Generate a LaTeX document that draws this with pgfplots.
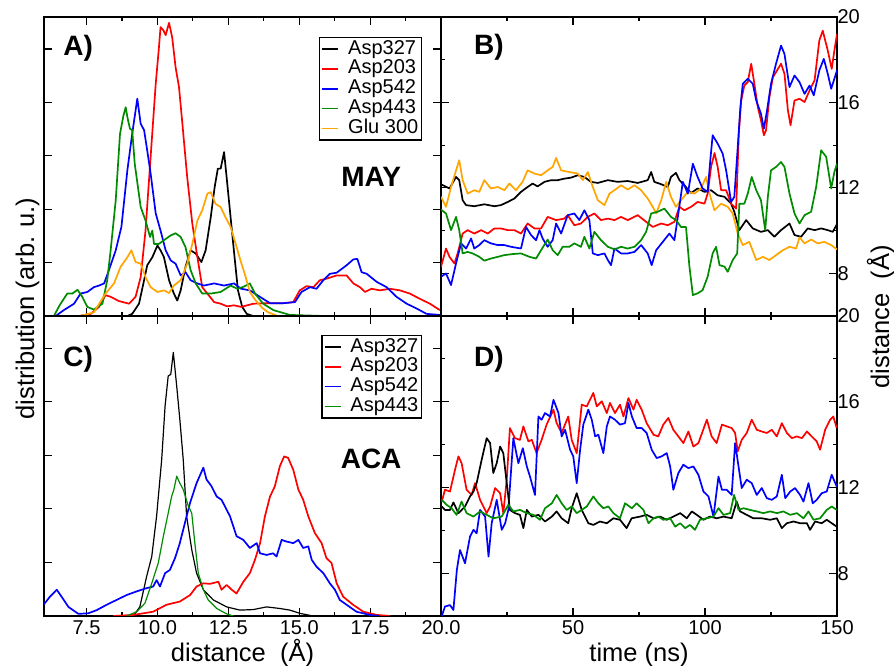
\documentclass[border=0pt]{standalone}
\usepackage{fontspec}
\setmainfont{Liberation Sans}
\usepackage{pgfplots}
\pgfplotsset{compat=1.18}

\definecolor{cgreen}{RGB}{0,139,0}
\definecolor{corange}{RGB}{255,165,0}

\tikzset{plabel/.style={font=\fontsize{28}{30}\selectfont\bfseries}}

\pgfplotsset{
  panel/.style={scale only axis, width=397pt, height=299pt,
    axis line style={line width=1.6pt},
    tick style={line width=1.2pt, black},
    tick align=inside, major tick length=8pt, minor tick length=4pt,
    ticklabel style={font=\fontsize{20}{20}\selectfont},
    /pgf/number format/assume math mode=true,
    xticklabel style={anchor=base, yshift=-19pt},
    no markers,
    every axis plot/.append style={line width=1.7pt, line join=round},
    legend cell align=left,
    legend image code/.code={\draw[##1, line width=1.5pt] (0pt,0pt) -- (16pt,0pt);},
    legend style={anchor=north east, draw=black, line width=1.3pt, inner sep=2pt,
      font=\fontsize{20}{20}\selectfont, row sep=0.8pt,
      nodes={inner sep=1pt, text height=13.5pt, text depth=3.5pt},
      /tikz/every odd column/.append style={column sep=8pt}},
    xlabel style={font=\fontsize{25.5}{26}\selectfont,
      at={(axis description cs:0.5,0)}, anchor=base, yshift=-46pt},
  },
  dist/.style={panel, xmin=6, xmax=20, ymin=0, ymax=5.6,
    xtick={7.5,10,12.5,15,17.5,20}, minor x tick num=1,
    ytick={0,1,2,3,4,5}, yticklabels={},
    xticklabel style={/pgf/number format/.cd, fixed, fixed zerofill, precision=1}},
  tser/.style={panel, xmin=0, xmax=150, ymin=6, ymax=20,
    xtick={0,50,100,150}, minor x tick num=1,
    ytick={8,12,16,20}, minor y tick num=1,
    yticklabel pos=right, yticklabel style={xshift=-3pt}},
}

\begin{document}
\begin{tikzpicture}
\useasboundingbox (0pt,0pt) rectangle (894pt,666pt);

% A) MAY distributions
\begin{axis}[dist, at={(44pt,350pt)}, anchor=south west, xticklabels={},
  legend style={at={(0.952,0.933)}}]
\addplot[black] coordinates {(8.94,0) (9.11,0.04) (9.35,0.23) (9.53,0.67) (9.64,0.95) (9.82,1.1) (10.0,1.32) (10.11,1.23) (10.23,1.1) (10.41,0.67) (10.58,0.42) (10.7,0.29) (10.82,0.48) (10.99,0.92) (11.17,1.23) (11.35,1.17) (11.55,1.01) (11.7,1.23) (11.88,1.85) (12.02,2.42) (12.13,2.76) (12.23,2.76) (12.35,3.07) (12.44,2.6) (12.58,1.85) (12.72,1.1) (12.84,0.48) (12.99,0.17) (13.15,0.04) (13.38,0)};
\addplot[red] coordinates {(7.23,0) (7.65,0.04) (7.94,0.17) (8.17,0.39) (8.35,0.36) (8.64,0.28) (9.0,0.23) (9.23,0.36) (9.41,0.73) (9.58,1.60) (9.76,2.98) (9.94,4.35) (10.05,5.01) (10.11,5.41) (10.21,5.35) (10.29,5.26) (10.41,5.49) (10.52,5.22) (10.64,4.66) (10.76,4.29) (10.88,3.6) (11.05,2.6) (11.23,1.73) (11.41,1.1) (11.58,0.54) (11.76,0.42) (12.0,0.26) (12.23,0.23) (12.46,0.18) (12.7,0.2) (12.95,0.17) (13.38,0.23) (13.85,0.24) (14.44,0.24) (14.79,0.26) (15.02,0.48) (15.26,0.56) (15.5,0.54) (15.73,0.67) (15.97,0.70) (16.32,0.76) (16.67,0.76) (16.91,0.61) (17.14,0.54) (17.32,0.45) (17.55,0.51) (17.85,0.48) (18.2,0.51) (18.55,0.48) (18.9,0.42) (19.26,0.32) (19.61,0.23) (19.96,0.11)};
\addplot[blue] coordinates {(6.41,0) (6.7,0.11) (7.06,0.23) (7.29,0.42) (7.53,0.45) (7.76,0.54) (7.94,0.57) (8.12,0.61) (8.29,0.86) (8.53,1.23) (8.73,1.67) (8.94,2.73) (9.11,3.41) (9.29,4.07) (9.41,3.60) (9.53,3.48) (9.64,3.10) (9.76,2.67) (9.94,1.92) (10.11,1.60) (10.29,1.23) (10.47,1.04) (10.64,0.98) (10.82,0.76) (10.99,0.82) (11.17,0.67) (11.41,0.61) (11.64,0.57) (12.0,0.61) (12.35,0.57) (12.7,0.61) (12.95,0.51) (13.26,0.48) (13.61,0.36) (13.97,0.24) (14.44,0.24) (14.85,0.26) (15.08,0.45) (15.38,0.54) (15.61,0.51) (15.85,0.67) (16.08,0.79) (16.32,0.81) (16.67,0.95) (16.91,1.06) (17.05,1.07) (17.2,0.82) (17.38,0.79) (17.73,0.64) (18.08,0.54) (18.43,0.36) (18.79,0.23) (19.14,0.14) (19.49,0.04) (19.96,0.02)};
\addplot[cgreen] coordinates {(6.35,0) (6.55,0.2) (6.82,0.42) (7.0,0.42) (7.18,0.49) (7.35,0.36) (7.53,0.17) (7.76,0.12) (8.06,0.23) (8.23,0.67) (8.35,1.23) (8.53,2.17) (8.68,3.41) (8.8,3.75) (8.88,3.91) (8.95,3.7) (9.03,3.51) (9.11,3.48) (9.2,2.85) (9.41,2.04) (9.58,1.79) (9.74,1.48) (9.82,1.60) (9.88,1.35) (10.05,1.35) (10.23,1.42) (10.47,1.51) (10.64,1.55) (10.82,1.48) (10.99,1.29) (11.17,0.86) (11.35,0.61) (11.58,0.42) (11.88,0.42) (12.23,0.45) (12.58,0.57) (12.82,0.51) (13.05,0.55) (13.26,0.61) (13.44,0.42) (13.73,0.23) (14.09,0.11) (14.67,0.02) (15.85,0)};
\addplot[corange] coordinates {(7.29,0) (7.76,0.07) (8.17,0.42) (8.47,0.61) (8.7,0.92) (8.94,1.1) (9.08,1.23) (9.23,1.01) (9.41,0.98) (9.58,0.73) (9.76,0.54) (10.0,0.45) (10.23,0.48) (10.41,0.43) (10.58,0.57) (10.82,0.67) (11.05,0.98) (11.23,1.35) (11.41,1.79) (11.58,1.98) (11.76,2.29) (11.88,2.32) (12.05,2.1) (12.23,2.04) (12.4,1.85) (12.58,1.67) (12.76,1.35) (12.93,1.04) (13.1,0.75) (13.26,0.45) (13.45,0.3) (13.7,0.15) (13.9,0.07) (14.2,0.01)};
\legend{Asp327,Asp203,Asp542,Asp443,Glu 300}
\node[plabel] at (rel axis cs:0.086,0.894) {A)};
\node[plabel] at (rel axis cs:0.824,0.465) {MAY};
\end{axis}

% B) MAY time series
\begin{axis}[tser, at={(441pt,350pt)}, anchor=south west, width=396pt, xticklabels={}]
\addplot[black] coordinates {(0,12.17) (3.2,11.97) (5.7,12.51) (6.9,12.36) (8.2,11.42) (9.5,11.19) (12.6,11.14) (16.4,11.23) (20.2,11.14) (22.7,11.19) (25.3,11.34) (27.8,11.5) (30.3,11.81) (32.8,12.04) (34.7,12.2) (36.6,12.07) (39.2,12.28) (41.7,12.36) (44.2,12.36) (46.7,12.43) (49.3,12.48) (51.8,12.59) (54.3,12.51) (56.8,12.28) (59.4,12.23) (63.2,12.36) (66.9,12.28) (70.7,12.32) (74.5,12.23) (78.3,12.36) (79.6,12.74) (80.8,12.28) (83.4,12.17) (85.9,12.04) (87.1,12.51) (89.0,12.7) (90.3,12.36) (92.2,12.12) (94.7,11.76) (97.2,11.97) (99.8,11.81) (102.3,11.89) (104.8,11.65) (107.4,11.58) (109.9,11.26) (111.1,10.88) (113.0,10.02) (115.6,10.49) (118.1,10.1) (121.2,9.94) (123.8,10.02) (126.3,9.71) (128.8,10.02) (132.0,10.33) (133.9,9.79) (136.4,9.71) (138.9,10.1) (141.5,10.02) (144.0,10.1) (146.5,10.02) (148.4,9.94) (150,10.3)};
\addplot[corange] coordinates {(0,11.58) (1.9,11.11) (3.8,12.04) (5.7,12.82) (6.9,13.29) (8.2,12.36) (10.1,11.73) (12.6,11.89) (14.5,11.81) (16.4,12.36) (18.9,11.97) (21.5,12.04) (24.0,11.89) (25.9,12.2) (28.4,11.89) (30.9,12.28) (32.8,12.82) (35.4,12.67) (37.9,12.59) (40.4,12.82) (42.3,12.98) (43.6,13.4) (45.5,12.82) (48.6,12.74) (51.8,12.67) (53.7,12.36) (55.6,12.74) (57.5,12.04) (59.4,11.42) (61.9,11.19) (63.8,11.73) (65.7,11.89) (68.2,12.12) (70.7,11.92) (73.3,12.12) (75.8,11.89) (78.3,11.5) (80.2,11.11) (81.5,10.8) (83.4,11.42) (85.3,12.28) (87.1,11.58) (89.0,11.11) (90.9,11.42) (93.5,11.81) (96.0,11.73) (98.5,11.97) (100.4,12.51) (101.7,11.73) (103.6,10.95) (106.1,11.26) (108.6,11.11) (110.5,10.8) (112.4,9.86) (114.3,9.32) (116.8,9.47) (119.4,8.62) (121.9,8.77) (124.4,8.62) (126.9,8.85) (129.5,9.08) (132.0,9.24) (134.5,9.16) (135.8,9.68) (137.7,9.4) (140.2,9.58) (142.7,9.4) (145.2,9.47) (147.8,9.32) (150,9.12)};
\addplot[red] coordinates {(0,8.3) (1.9,9.16) (3.2,8.77) (5.1,8.46) (6.3,8.93) (8.2,9.86) (10.1,10.02) (12.6,9.86) (15.2,10.02) (17.7,9.86) (20.2,10.1) (22.7,10.1) (25.3,10.02) (27.8,10.02) (30.3,9.86) (32.8,10.33) (35.4,10.1) (37.9,10.1) (40.4,10.64) (43.6,10.49) (46.7,10.56) (48.0,10.72) (50.5,10.25) (53.0,10.33) (55.6,10.64) (58.1,10.8) (60.6,10.49) (63.2,10.56) (65.7,10.49) (68.2,10.64) (70.7,10.49) (74.5,10.72) (77.7,10.41) (80.2,10.17) (83.4,10.33) (85.9,10.25) (88.4,10.41) (90.3,11.11) (92.2,10.95) (94.7,11.11) (97.2,11.34) (99.8,11.26) (101.0,11.73) (102.3,12.98) (103.6,13.63) (104.8,12.98) (106.1,11.89) (108.0,11.89) (109.9,11.26) (111.8,11.03) (112.8,14.54) (113.7,16.09) (114.9,16.79) (116.2,16.95) (117.5,17.81) (118.7,16.87) (120.0,15.78) (121.2,15.16) (122.3,14.46) (123.1,14.69) (124.4,16.25) (125.7,17.18) (126.9,17.42) (128.8,17.81) (130.1,17.34) (131.4,15.63) (132.4,14.93) (133.9,16.09) (135.8,16.17) (137.7,16.02) (139.6,16.56) (141.5,17.03) (143.3,18.9) (144.6,19.36) (146.5,18.43) (148.0,17.57) (149.0,18.43) (150,19.2)};
\addplot[blue] coordinates {(0,7.84) (1.9,7.99) (3.8,7.45) (5.7,8.46) (7.6,9.4) (9.5,9.16) (11.4,9.63) (12.6,9.16) (14.5,9.32) (16.4,9.55) (18.9,9.4) (21.5,9.32) (24.0,9.32) (26.5,9.24) (30.3,9.16) (32.2,10.17) (34.1,9.79) (36.0,9.55) (37.3,10.02) (38.5,9.63) (40.4,9.24) (42.3,9.55) (43.6,10.33) (45.5,9.86) (48.0,10.72) (50.5,10.8) (52.4,10.49) (54.3,10.95) (56.2,10.49) (57.5,8.93) (59.4,8.85) (61.9,8.93) (63.2,8.62) (64.4,8.38) (65.7,9.16) (68.2,8.93) (70.7,8.93) (73.3,9.0) (75.8,9.32) (78.3,8.93) (79.8,8.38) (81.5,9.08) (84.0,9.47) (86.5,9.86) (88.4,9.55) (89.9,10.8) (91.6,12.28) (93.5,11.73) (95.4,13.13) (97.2,12.51) (99.1,11.97) (101.0,11.81) (102.0,13.29) (102.9,14.46) (104.8,14.07) (106.7,13.6) (108.0,12.82) (109.9,11.34) (111.1,11.58) (112.4,13.91) (113.4,15.78) (114.3,16.87) (116.2,17.11) (118.1,16.87) (119.4,16.09) (121.2,15.47) (122.3,14.77) (123.5,15.63) (125.0,16.87) (126.9,17.81) (128.8,18.66) (130.1,18.27) (132.0,16.72) (133.9,17.26) (135.8,16.95) (137.7,16.4) (139.6,16.79) (141.2,16.33) (143.3,17.5) (145.0,18.04) (146.5,17.34) (147.8,16.64) (150,17.5)};
\addplot[cgreen] coordinates {(0,10.98) (1.9,10.8) (3.8,10.02) (5.7,10.64) (6.9,10.02) (8.2,8.93) (10.1,9.0) (12.0,8.93) (14.5,8.77) (16.4,8.59) (18.9,8.69) (21.5,8.77) (24.0,8.85) (27.2,8.9) (30.3,8.93) (33.5,8.77) (36.0,8.69) (37.9,9.08) (40.4,9.58) (42.3,9.08) (44.2,8.85) (46.1,9.24) (48.6,9.24) (50.5,9.4) (53.0,9.24) (54.3,9.71) (56.2,9.16) (58.1,9.94) (60.6,9.55) (63.2,9.24) (65.7,9.12) (68.2,9.24) (70.7,9.16) (73.3,9.24) (75.8,9.55) (77.7,9.94) (79.6,10.8) (82.1,10.88) (84.6,11.03) (87.1,10.64) (89.0,10.49) (90.9,10.17) (92.8,10.17) (94.1,8.31) (95.4,6.98) (97.2,7.06) (99.1,7.21) (101.0,7.84) (102.9,8.93) (104.2,9.24) (105.5,8.38) (107.4,8.31) (108.6,8.07) (110.5,8.62) (112.2,8.93) (113.0,11.26) (114.9,11.26) (116.2,11.73) (117.7,12.51) (119.4,11.89) (121.2,11.42) (122.8,10.02) (123.8,11.58) (125.0,12.82) (126.9,12.98) (128.8,13.21) (130.1,12.98) (132.0,11.73) (133.9,10.8) (135.8,10.33) (137.7,10.72) (140.2,10.88) (142.1,12.04) (144.0,13.76) (145.9,13.45) (147.8,11.97) (149.0,12.74) (150,13.13)};
\node[plabel] at (rel axis cs:0.121,0.9) {B)};
\end{axis}

% C) ACA distributions
\begin{axis}[dist, at={(44pt,50pt)}, anchor=south west, height=300pt,
  xlabel={distance\ \ (Å)}, legend style={at={(0.952,0.937)}}]
\addplot[black, line width=1.2pt] coordinates {(9.15,0) (9.38,0.17) (9.62,0.74) (9.80,1.11) (9.97,1.86) (10.15,2.92) (10.27,3.92) (10.38,4.48) (10.47,4.51) (10.56,4.92) (10.68,4.29) (10.79,3.67) (10.91,2.92) (11.03,1.86) (11.21,1.24) (11.38,0.8) (11.62,0.49) (11.97,0.3) (12.44,0.17) (12.91,0.11) (13.38,0.12) (13.85,0.17) (14.32,0.14) (14.67,0.11) (15.02,0.05) (15.49,0)};
\addplot[red] coordinates {(8.44,0) (9.15,0.02) (9.85,0.08) (10.32,0.21) (10.79,0.27) (11.15,0.39) (11.38,0.55) (11.62,0.61) (11.85,0.6) (12.15,0.64) (12.26,0.49) (12.44,0.58) (12.62,0.49) (12.79,0.42) (13.03,0.64) (13.26,0.8) (13.44,1.05) (13.62,1.36) (13.79,1.86) (13.97,2.23) (14.14,2.42) (14.32,2.8) (14.47,2.98) (14.61,2.95) (14.79,2.73) (14.97,2.36) (15.14,2.17) (15.32,1.86) (15.55,1.55) (15.79,1.36) (15.96,1.08) (16.14,0.99) (16.32,0.61) (16.55,0.36) (16.9,0.21) (17.26,0.08) (17.73,0.02) (18.2,0)};
\addplot[blue] coordinates {(6.0,0.22) (6.21,0.36) (6.45,0.49) (6.62,0.36) (6.86,0.17) (7.21,0.04) (7.56,0.05) (7.86,0.11) (8.21,0.21) (8.56,0.3) (8.91,0.39) (9.27,0.46) (9.62,0.52) (9.85,0.55) (9.97,0.67) (10.09,0.55) (10.27,0.8) (10.44,0.86) (10.62,1.08) (10.79,1.36) (10.97,1.74) (11.15,2.11) (11.38,2.48) (11.62,2.77) (11.73,2.55) (11.91,2.42) (12.09,2.23) (12.26,2.17) (12.56,1.86) (12.79,1.49) (13.03,1.42) (13.26,1.27) (13.5,1.36) (13.62,1.17) (13.85,1.14) (14.08,1.17) (14.2,1.11) (14.38,1.42) (14.55,1.39) (14.79,1.36) (14.97,1.42) (15.14,1.27) (15.32,1.3) (15.44,1.05) (15.61,0.92) (15.85,0.8) (16.08,0.61) (16.26,0.49) (16.43,0.3) (16.67,0.21) (17.02,0.08) (17.49,0.02) (17.84,0)};
\addplot[cgreen, line width=1.2pt] coordinates {(8.91,0) (9.27,0.08) (9.56,0.24) (9.80,0.61) (10.03,0.99) (10.21,1.49) (10.38,1.92) (10.5,2.23) (10.58,2.36) (10.68,2.61) (10.79,2.48) (10.91,2.36) (11.09,2.05) (11.21,1.92) (11.32,1.36) (11.44,0.8) (11.62,0.49) (11.79,0.3) (12.09,0.14) (12.44,0.04) (12.67,0)};
\legend{Asp327,Asp203,Asp542,Asp443}
\node[plabel] at (rel axis cs:0.086,0.855) {C)};
\node[plabel] at (rel axis cs:0.824,0.523) {ACA};
\end{axis}

% D) ACA time series
\begin{axis}[tser, at={(441pt,50pt)}, anchor=south west, width=396pt, height=300pt,
  xticklabels={,50,100,150}, xlabel={time (ns)}]
\addplot[red] coordinates {(0.3,11.34) (1.5,11.89) (3.4,11.81) (5.3,12.82) (6.6,13.45) (7.8,13.13) (9.7,11.89) (11.6,11.65) (12.9,12.2) (14.8,11.42) (17.3,10.8) (18.6,11.11) (20.5,11.97) (22.4,11.73) (23.6,10.8) (24.9,12.36) (26.1,14.77) (28.0,14.3) (29.9,14.22) (31.2,14.85) (33.1,14.15) (34.4,14.22) (36.2,13.6) (38.1,14.22) (40.0,14.93) (42.6,15.63) (43.8,15.0) (45.7,14.54) (48.2,15.31) (49.5,14.22) (51.4,13.6) (53.3,15.86) (55.2,15.78) (57.7,16.41) (59.0,15.78) (60.9,16.02) (62.8,15.47) (64.0,15.94) (65.9,15.47) (67.8,15.86) (69.1,15.31) (71.0,16.17) (72.9,15.63) (74.1,16.09) (76.0,15.63) (77.9,15.0) (80.5,14.46) (82.3,14.38) (84.2,14.93) (86.1,15.24) (88.0,14.69) (89.9,14.38) (91.8,14.07) (93.7,14.61) (95.6,13.91) (97.5,14.07) (100.7,15.16) (102.5,14.38) (104.4,14.07) (106.4,14.93) (108.2,14.85) (110.1,14.77) (111.4,14.54) (112.4,13.68) (113.9,14.22) (115.8,14.54) (117.7,15.16) (119.6,14.69) (121.5,14.61) (123.4,14.54) (125.3,14.69) (127.2,14.38) (129.1,15.0) (131.0,14.54) (132.9,14.3) (134.8,14.38) (136.7,14.3) (138.6,14.61) (140.4,14.38) (142.3,14.15) (143.6,13.76) (145.5,14.69) (147.4,15.16) (148.6,15.31) (149.9,14.77)};
\addplot[blue] coordinates {(0.3,6.0) (1.5,6.44) (3.4,6.51) (4.7,6.28) (6.0,8.15) (7.2,9.08) (9.1,8.46) (11.0,9.71) (12.3,10.02) (13.5,9.86) (14.8,10.95) (16.7,10.64) (18.0,8.77) (19.2,10.33) (21.1,11.42) (23.0,10.02) (24.3,10.33) (25.5,10.95) (27.4,14.3) (29.3,13.13) (31.0,13.83) (32.5,12.98) (33.7,12.51) (35.6,11.65) (36.9,15.31) (38.1,15.16) (39.4,15.47) (41.3,15.31) (42.6,16.09) (44.5,15.47) (45.7,14.38) (47.0,14.69) (48.9,13.76) (50.1,13.45) (51.4,12.2) (52.7,13.76) (53.9,14.93) (55.8,15.63) (57.1,15.16) (58.4,14.38) (59.6,14.46) (61.5,13.6) (62.8,14.85) (64.0,15.31) (65.9,15.16) (67.8,14.93) (69.7,15.0) (71.0,15.94) (72.3,15.31) (74.1,14.77) (76.0,14.77) (77.9,14.54) (79.8,13.76) (81.7,13.37) (83.6,13.45) (85.5,13.6) (86.8,12.98) (88.0,11.89) (89.9,12.67) (91.8,13.06) (93.7,12.9) (95.6,12.98) (97.5,12.59) (99.4,11.81) (101.3,11.58) (103.2,10.64) (105.1,12.51) (106.4,11.89) (108.2,11.89) (110.1,11.65) (111.4,14.07) (112.7,12.98) (113.9,11.97) (115.8,12.36) (117.7,12.2) (119.6,11.65) (121.5,11.97) (123.4,11.5) (125.3,11.42) (127.2,11.58) (129.1,12.59) (130.4,11.5) (132.3,11.81) (134.1,11.97) (136.0,11.65) (137.3,11.34) (139.2,12.2) (140.8,11.26) (142.3,11.42) (144.2,11.73) (146.1,11.81) (148.0,12.59) (149.9,12.04)};
\addplot[black] coordinates {(0.3,11.11) (1.5,10.95) (3.4,10.95) (4.7,11.3) (6.6,10.8) (9.1,11.11) (11.0,11.58) (12.3,11.81) (13.5,12.2) (15.4,13.29) (17.3,14.3) (18.6,14.07) (19.8,12.67) (21.1,13.13) (22.4,13.91) (23.6,13.6) (24.9,12.2) (26.1,10.95) (28.0,10.8) (29.9,10.72) (31.2,10.1) (32.5,10.95) (34.4,10.64) (36.9,10.72) (39.4,10.41) (42.0,10.64) (43.8,10.88) (45.7,10.56) (48.2,10.33) (49.5,11.03) (51.4,11.73) (53.3,10.95) (55.8,10.33) (57.7,10.25) (60.2,10.41) (62.8,10.33) (65.3,10.56) (67.8,10.49) (70.3,10.1) (72.2,10.56) (75.4,10.64) (77.9,10.72) (80.5,10.56) (83.0,10.64) (85.5,10.49) (88.0,10.64) (90.6,10.8) (93.1,10.56) (95.0,10.88) (96.9,10.72) (99.4,10.49) (101.9,10.64) (104.4,10.56) (107.0,10.64) (110.1,10.56) (112.0,11.34) (113.3,10.88) (115.8,10.72) (118.3,10.56) (121.5,10.56) (124.7,10.49) (127.2,10.56) (129.1,10.1) (131.0,10.33) (133.5,10.41) (136.0,10.33) (138.6,10.33) (139.8,10.02) (141.7,10.41) (144.2,10.33) (146.1,10.49) (148.0,10.33) (149.9,10.17)};
\addplot[cgreen] coordinates {(0.3,11.42) (2.1,11.19) (4.0,11.03) (5.9,10.72) (7.8,11.34) (9.7,10.8) (12.3,10.64) (14.8,10.88) (17.3,10.72) (19.8,10.56) (23.0,10.64) (25.5,11.19) (27.4,10.88) (29.9,10.95) (32.5,10.8) (35.0,10.72) (37.5,10.49) (39.4,11.03) (42.0,11.26) (43.8,11.65) (45.7,11.26) (47.6,10.95) (49.5,11.11) (51.4,10.8) (53.3,10.95) (55.2,11.11) (57.7,11.58) (59.6,11.26) (61.5,11.03) (63.4,11.11) (65.3,10.8) (67.8,10.56) (69.7,11.26) (72.3,11.03) (74.1,11.26) (76.7,10.95) (78.6,10.33) (80.5,10.56) (82.3,10.64) (84.2,10.49) (86.8,10.56) (88.7,10.17) (90.6,10.33) (92.5,10.1) (94.3,10.25) (96.2,10.02) (98.1,10.49) (100.7,10.56) (103.2,10.64) (105.1,11.03) (107.0,10.72) (109.5,10.8) (111.0,11.65) (112.7,10.95) (114.6,11.03) (117.1,10.95) (119.6,10.88) (122.1,10.8) (124.7,10.88) (127.2,10.8) (129.7,10.88) (132.3,10.72) (134.8,10.8) (137.3,10.56) (139.2,10.88) (141.1,10.49) (143.6,10.56) (146.1,10.95) (148.0,11.11) (149.9,10.95)};
\node[plabel] at (rel axis cs:0.121,0.855) {D)};
\end{axis}

\node[rotate=90, anchor=base, font=\fontsize{25.5}{26}\selectfont] at (34pt,357.5pt) {distribution (arb. u.)};
\node[rotate=90, anchor=base, font=\fontsize{25.5}{26}\selectfont] at (889pt,349pt) {distance\ \ (Å)};
\end{tikzpicture}
\end{document}
